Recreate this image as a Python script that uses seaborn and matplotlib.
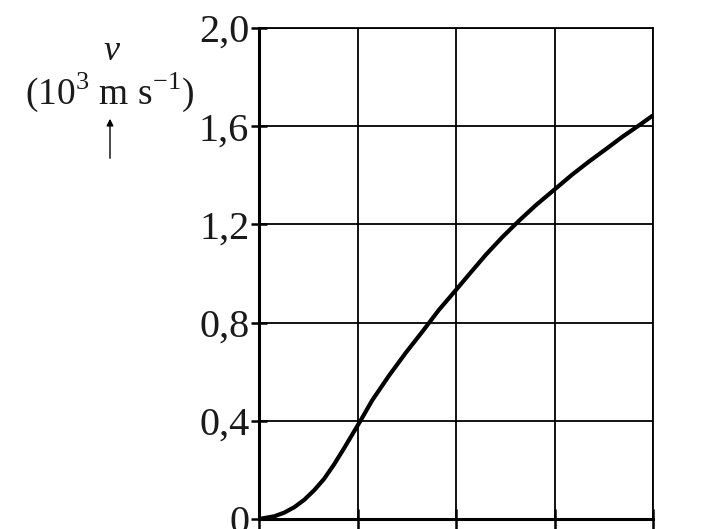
import matplotlib
matplotlib.use("Agg")
import matplotlib.pyplot as plt
import seaborn as sns
import pandas as pd

# data
t_values = [0, 0.155, 0.257, 0.358, 0.459, 0.56, 0.66, 0.76, 0.865, 0.966,
            1.03, 1.15, 1.32, 1.49, 1.66, 1.825, 2.0, 2.13, 2.30, 2.47,
            2.64, 2.81, 3.0, 3.18, 3.35, 3.52, 3.69, 3.86, 4.0]
v_values = [0, 0.011, 0.026, 0.048, 0.078, 0.117, 0.163, 0.221, 0.289, 0.357,
            0.40, 0.484, 0.584, 0.677, 0.764, 0.851, 0.933, 0.995, 1.075, 1.148,
            1.215, 1.278, 1.342, 1.403, 1.456, 1.506, 1.557, 1.604, 1.644]
y_ticks = [0, 0.4, 0.8, 1.2, 1.6, 2.0]
y_tick_labels = ["0", "0,4", "0,8", "1,2", "1,6", "2,0"]
x_ticks = [0, 1, 2, 3, 4]

sns.set_theme(style="white")
plt.rcParams['font.family'] = ['Liberation Serif', 'DejaVu Serif']

df = pd.DataFrame({"t": t_values, "v": v_values})

fig = plt.figure(figsize=(7.13, 5.29), dpi=100)
ax = fig.add_axes([259 / 713, 10 / 529, 394 / 713, 491 / 529])

sns.lineplot(data=df, x="t", y="v", ax=ax, color="black", linewidth=3.0,
             solid_capstyle="butt", solid_joinstyle="round", clip_on=False, zorder=5)

ax.set_xlim(0, 4)
ax.set_ylim(0, 2.0)
ax.set_xticks(x_ticks)
ax.set_xticklabels([])
ax.set_yticks(y_ticks)
ax.set_yticklabels(y_tick_labels)
ax.set_xlabel("")
ax.set_ylabel("")

ax.grid(True, color="black", linewidth=1.3)
ax.set_axisbelow(True)
for side in ["left", "bottom"]:
    ax.spines[side].set_linewidth(2.2)
    ax.spines[side].set_color("black")
for side in ["top", "right"]:
    ax.spines[side].set_linewidth(1.3)
    ax.spines[side].set_color("black")

ax.tick_params(axis="y", direction="inout", length=12, width=1.8, color="black",
               labelsize=29, labelcolor="#1a1a1a", pad=1, left=True)
ax.tick_params(axis="x", direction="inout", length=15, width=1.8, color="black",
               bottom=True)

# axis label
fig.text(111 / 713, 1 - 52 / 529, "v", fontsize=26, style="italic",
         ha="center", va="center", color="#1a1a1a")
fig.text(110 / 713, 1 - 92 / 529, r"(10$^{\mathregular{3}}$ m s$^{\mathregular{-1}}$)",
         fontsize=27, ha="center", va="center", color="#1a1a1a")
fig.add_artist(matplotlib.patches.FancyArrowPatch(
    (110 / 713, 1 - 161 / 529), (110 / 713, 1 - 116 / 529),
    transform=fig.transFigure, arrowstyle="-|>", mutation_scale=10,
    color="black", linewidth=1.0))

fig.savefig("out.png", dpi=100)
